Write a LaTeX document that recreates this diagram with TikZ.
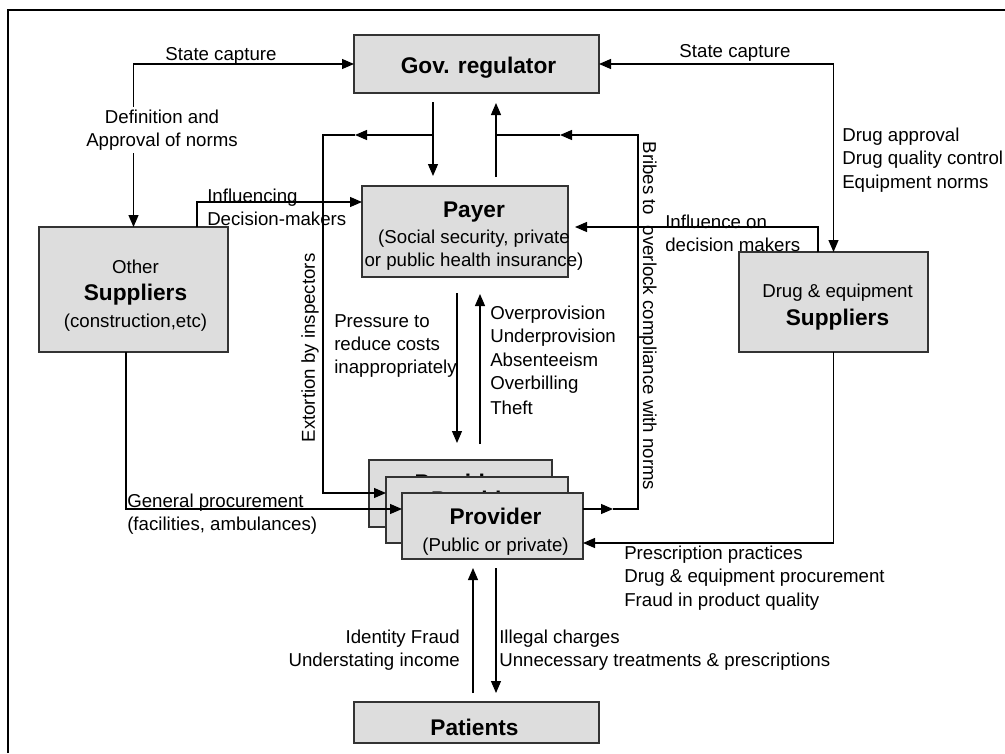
\documentclass[tikz,border=0pt]{standalone}
\usepackage{fontspec}
\setmainfont{Liberation Sans}
\usetikzlibrary{arrows.meta,calc}
\definecolor{boxgray}{HTML}{DDDDDD}
\definecolor{edgegray}{HTML}{333333}
\newlength\pxu
\setlength\pxu{0.75pt}
\begin{document}
\begin{tikzpicture}[x=0.75pt,y=-0.75pt,
  box/.style={draw=edgegray, fill=boxgray, line width=1.1pt, outer sep=0pt, inner sep=0pt, anchor=north west},
  title/.style={font=\fontsize{17}{20}\selectfont\bfseries, inner sep=0pt},
  lbl/.style={font=\fontsize{14}{17.5}\selectfont, inner sep=0pt, align=left},
  conn/.style={line width=0.9pt, draw=black},
  arr/.style={conn, -{Triangle[length=9pt, width=7.5pt]}},
  both/.style={conn, {Triangle[length=9pt, width=7.5pt]}-{Triangle[length=9pt, width=7.5pt]}},
]
\useasboundingbox (0,0) rectangle (1005,753);
\fill[white] (0,0) rectangle (1005,753);
% frame
\draw[line width=1.35pt] (8,753) -- (8,10) -- (1005,10);

% boxes
\node[box, minimum width=245\pxu, minimum height=58\pxu] (gov) at (354,35) {};
\node[title] (govt) at ($(gov.center)+(2,4)$) {Gov. regulator};
\node[box, minimum width=206\pxu, minimum height=91\pxu] (payer) at (362,186) {};
\node[lbl, align=center] (payert) at (474,236) {{\fontsize{17}{20}\selectfont\bfseries Payer}\\[2pt](Social security, private\\or public health insurance)};
\node[box, minimum width=189\pxu, minimum height=125\pxu] (other) at (39,227) {};
\node[lbl, align=center] (othert) at ($(other.center)+(2,6)$) {Other\\[3pt]{\fontsize{17}{20}\selectfont\bfseries Suppliers}\\[3pt](construction,etc)};
\node[box, minimum width=189\pxu, minimum height=100\pxu] (drug) at (739,252) {};
\node[lbl, align=center] (drugt) at ($(drug.center)+(4,5)$) {Drug \& equipment\\[3pt]{\fontsize{17}{20}\selectfont\bfseries Suppliers}};
\node[box, minimum width=183\pxu, minimum height=67\pxu] (provA) at (369,460) {};
\node[title] (provAt) at ($(provA.north)+(0,22)$) {Provider};
\node[box, minimum width=182\pxu, minimum height=66\pxu] (provB) at (386,477) {};
\node[title] (provBt) at ($(provB.north)+(0,22)$) {Provider};
\node[box, minimum width=181\pxu, minimum height=66\pxu] (prov) at (402,493) {};
\node[lbl, align=center] (provt) at ($(prov.center)+(3,6)$) {{\fontsize{17}{20}\selectfont\bfseries Provider}\\[3pt](Public or private)};
\node[box, minimum width=245\pxu, minimum height=41\pxu] (patients) at (354,702) {};
\node[title] (patt) at ($(patients.center)+(-2,5)$) {Patients};

% state capture / norms (left)
\draw[both] (other.north) |- (gov.west);
\node[lbl] (sc1) at (221,56) {State capture};
\node[lbl, align=center, fill=white, inner sep=2pt] (defn) at (162,130) {Definition and\\Approval of norms};

% influencing decision makers (left)
\draw[arr] (other.north -| 197,0) |- (payer.west |- 0,202);
\node[lbl, anchor=west] (infl) at (207,207) {Influencing\\Decision-makers};

% gov <-> payer
\draw[arr] ($(gov.south -| 433,0)+(0,9)$) -- ($(payer.north -| 433,0)+(0,-10)$);
\draw[arr] ($(payer.north -| 496,0)+(0,-9)$) -- ($(gov.south -| 496,0)+(0,10)$);

% extortion
\coordinate (exA) at (433,135);
\coordinate (exB) at (355,135);
\draw[arr] (exA) -- (exB);
\draw[arr] (exB) -- (323,135) |- (provB.west |- 0,493);
\node[lbl, rotate=90] (ext) at (310,348) {Extortion by inspectors};

% bribes
\coordinate (brA) at (613,509);
\coordinate (brB) at (638,135);
\coordinate (brC) at (560,135);
\coordinate (brD) at (496,135);
\draw[arr] (prov.east |- 0,509) -- (brA);
\draw[arr] (brA) -- (638,509) -- (brB) -- (brC);
\draw[conn] (brC) -- (brD);
\node[lbl, rotate=-90] (bribe) at (648,316) {Bribes to\ \ overlock\ compliance with norms};

% state capture (right)
\draw[both] (gov.east) -| (drug.north);
\node[lbl] (sc2) at (735,53) {State capture};
\node[lbl, anchor=west] (norms) at (842,160) {Drug approval\\Drug quality control\\Equipment norms};

% influence on decision makers (right)
\draw[arr] (drug.north -| 818,0) |- ($(payer.east |- 0,227)+(7,0)$);
\node[lbl, anchor=west] (infl2) at (665,233) {Influence on\\decision makers};

% payer <-> provider
\draw[arr] ($(payer.south -| 457,0)+(0,16)$) -- ($(provA.north -| 457,0)+(0,-17)$);
\draw[arr] ($(provA.north -| 480,0)+(0,-16)$) -- ($(payer.south -| 480,0)+(0,17)$);
\node[lbl, anchor=west] (press) at (334,346) {Pressure to\\reduce costs\\inappropriately};
\node[lbl, anchor=west] (overp) at (490,360) {Overprovision\\Underprovision\\Absenteeism\\Overbilling\\[1pt]Theft};

% general procurement
\draw[arr] (other.south -| 126,0) |- (prov.west |- 0,509);
\node[lbl, anchor=west] (genp) at (127,514) {General procurement\\(facilities, ambulances)};

% drug -> provider
\draw[arr] (drug.south) |- (prov.east |- 0,543);
\node[lbl, anchor=west] (presc) at (624,578) {Prescription practices\\Drug \& equipment procurement\\Fraud in product quality};

% provider <-> patients
\draw[arr] ($(patients.north -| 473,0)+(0,-9)$) -- ($(prov.south -| 473,0)+(0,9)$);
\draw[arr] ($(prov.south -| 496,0)+(0,9)$) -- ($(patients.north -| 496,0)+(0,-9)$);
\node[lbl, anchor=east, align=right] (idf) at (460,650) {Identity Fraud\\Understating income};
\node[lbl, anchor=west] (ill) at (499,650) {Illegal charges\\Unnecessary treatments \& prescriptions};
\end{tikzpicture}
\end{document}
